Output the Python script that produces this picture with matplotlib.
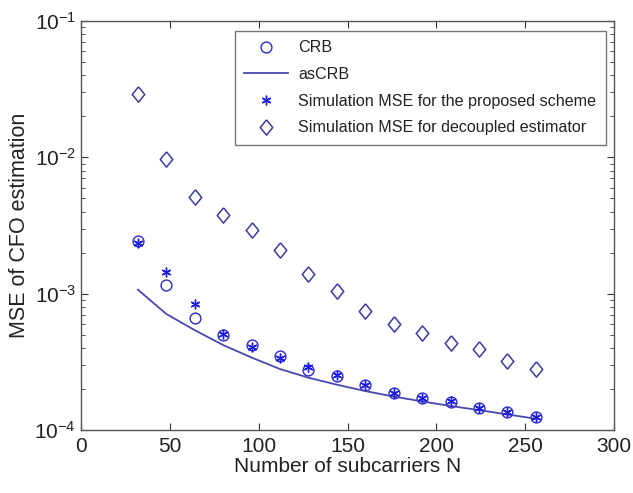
import matplotlib
matplotlib.use("Agg")
import matplotlib.pyplot as plt
from matplotlib.ticker import LogLocator, NullFormatter

N = [32, 48, 64, 80, 96, 112, 128, 144, 160, 176, 192, 208, 224, 240, 256]
crb = [0.00244, 0.00116, 0.000665, 0.000500, 0.000418, 0.000350, 0.000275, 0.000247,
       0.000213, 0.000186, 0.000172, 0.000160, 0.000145, 0.000135, 0.000124]
ascrb = [0.00107, 0.00071, 0.00054, 0.00042, 0.00034, 0.00028, 0.000242, 0.000215,
         0.000193, 0.000176, 0.000162, 0.000150, 0.000140, 0.000130, 0.000121]
sim_proposed = [0.00237, 0.00145, 0.000838, 0.000507, 0.000405, 0.000335, 0.000290, 0.000252,
                0.000215, 0.000188, 0.000173, 0.000162, 0.000146, 0.000136, 0.000125]
sim_decoupled = [0.0290, 0.0098, 0.00516, 0.00379, 0.00291, 0.00210, 0.00139, 0.00104,
                 0.000744, 0.000595, 0.000513, 0.000437, 0.000393, 0.000322, 0.000279]

labels = ["CRB", "asCRB", "Simulation MSE for the proposed scheme",
          "Simulation MSE for decoupled estimator"]

plt.rcParams['font.family'] = ['Liberation Sans', 'DejaVu Sans']
plt.rcParams['mathtext.fontset'] = 'custom'
plt.rcParams['mathtext.rm'] = 'Liberation Sans'
plt.rcParams['mathtext.it'] = 'Liberation Sans'

fig = plt.figure(figsize=(6.33, 4.93), dpi=100)
ax = fig.add_axes([81 / 633, 1 - 430 / 493, 533 / 633, 409 / 493])

# tall diamond like MATLAB's
diamond = [(0, 1), (0.82, 0), (0, -1), (-0.82, 0), (0, 1)]

ax.plot(N, crb, linestyle='none', marker='o', markersize=7.8, markerfacecolor='none',
        markeredgecolor='#2a2ad0', markeredgewidth=1.0, label=labels[0])
ax.plot(N, ascrb, color='#4848b0', linewidth=1.3, label=labels[1])
ax.plot(N, sim_proposed, linestyle='none', marker=(6, 2, 0), markersize=7,
        color='#1a1ae0', markeredgewidth=1.0, label=labels[2])
ax.plot(N, sim_decoupled, linestyle='none', marker=diamond, markersize=11,
        markerfacecolor='none', markeredgecolor='#3a3aa0', markeredgewidth=1.1,
        label=labels[3])

ax.set_yscale('log')
ax.set_xlim(0, 300)
ax.set_ylim(1e-4, 1e-1)
ax.set_xticks([0, 50, 100, 150, 200, 250, 300])
ax.yaxis.set_major_locator(LogLocator(base=10, numticks=10))
ax.yaxis.set_minor_locator(LogLocator(base=10, subs=range(2, 10), numticks=10))
ax.yaxis.set_minor_formatter(NullFormatter())

ax.tick_params(axis='both', which='both', direction='in', top=True, right=True,
               labelsize=15, colors='#333333', labelcolor='#222222')
ax.tick_params(which='major', length=5)
ax.tick_params(which='minor', length=3)
ax.tick_params(axis='x', pad=5)
for s in ax.spines.values():
    s.set_color('#555555')
    s.set_linewidth(1.0)

ax.set_xlabel('Number of subcarriers N', fontsize=15, color='#222222', labelpad=1)
ax.set_ylabel('MSE of CFO estimation', fontsize=15.5, color='#222222', labelpad=3)

leg = ax.legend(loc='upper right', bbox_to_anchor=(0.985, 0.976), fontsize=11.6,
                frameon=True, fancybox=False, edgecolor='#555555',
                handlelength=2.7, handletextpad=0.65, borderpad=0.6, labelspacing=0.72,
                borderaxespad=0)
leg.get_frame().set_linewidth(1.0)
for t in leg.get_texts():
    t.set_color('#222222')

fig.savefig('out.png', dpi=100)
